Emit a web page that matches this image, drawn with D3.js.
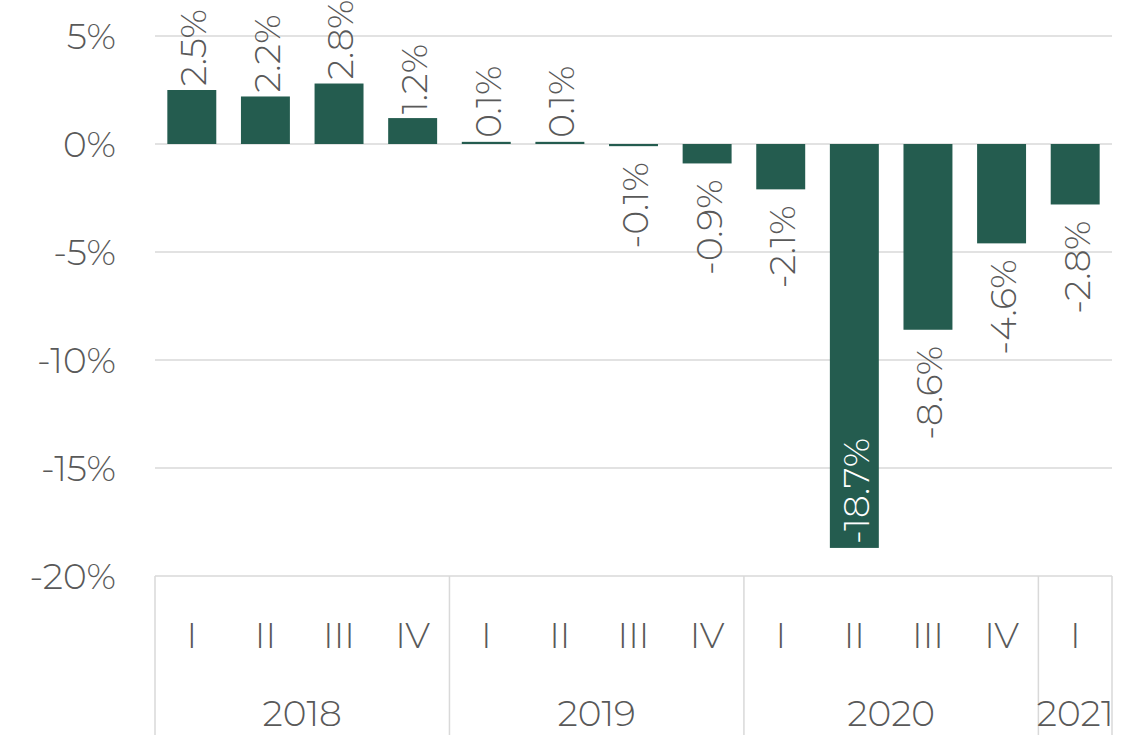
<!DOCTYPE html>
<html>
<head>
<meta charset="utf-8">
<script src="https://cdn.jsdelivr.net/npm/d3@7"></script>
<style>
    html, body { margin: 0; padding: 0; background: #fff; }
    svg text { font-family: Montserrat, "Open Sans", "Noto Sans", sans-serif; font-weight: 300; fill: #595959; }
</style>
</head>
<body>
<div id="chart"></div>
<script>
// datos del gráfico
var quarters = ["I", "II", "III", "IV", "I", "II", "III", "IV", "I", "II", "III", "IV", "I"];
var years = ["2018", "2019", "2020", "2021"];
var quartersPerYear = [4, 4, 4, 1];
var values = [2.5, 2.2, 2.8, 1.2, 0.1, 0.1, -0.1, -0.9, -2.1, -18.7, -8.6, -4.6, -2.8];
var yTicks = [5, 0, -5, -10, -15, -20];

var width = 1130, height = 735,
    margins = {top: 36, right: 18, bottom: 159, left: 155},
    innerW = width - margins.left - margins.right,
    innerH = height - margins.top - margins.bottom,
    barColor = "#245c4f",
    gridColor = "#d9d9d9",
    fontSize = 36,
    labelGap = 16;

var svg = d3.select("#chart").append("svg")
    .attr("width", width)
    .attr("height", height);

var g = svg.append("g")
    .attr("transform", `translate(${margins.left}, ${margins.top})`);

var x = d3.scaleBand()
    .domain(d3.range(values.length))
    .range([0, innerW])
    .paddingInner(0.335)
    .paddingOuter(0.1675);

var y = d3.scaleLinear()
    .domain([-20, 5])
    .range([innerH, 0]);

// lineas de la grilla
g.append("g")
    .selectAll("line")
    .data(yTicks)
    .enter().append("line")
        .attr("x1", 0)
        .attr("x2", innerW)
        .attr("y1", d => y(d))
        .attr("y2", d => y(d))
        .attr("stroke", gridColor)
        .attr("stroke-width", 1.5);

// eje y
var yAxis = d3.axisLeft(y)
    .tickValues(yTicks)
    .tickSize(0)
    .tickPadding(39)
    .tickFormat(d => d + "%");

g.append("g")
    .call(yAxis)
    .call(sel => sel.select(".domain").remove())
    .selectAll("text")
        .attr("font-size", fontSize)
        .attr("dy", "0.35em");

// barras
g.append("g")
    .selectAll("rect")
    .data(values)
    .enter().append("rect")
        .attr("x", (d, i) => x(i))
        .attr("y", d => y(Math.max(0, d)))
        .attr("width", x.bandwidth())
        .attr("height", d => Math.abs(y(d) - y(0)))
        .attr("fill", barColor);

// etiquetas de datos
var labelLen = 3.1 * fontSize;
var inside = d => d < 0 && y(d) + labelGap + labelLen > innerH;

g.append("g")
    .selectAll("text")
    .data(values)
    .enter().append("text")
        .attr("font-size", fontSize)
        .attr("dy", "0.4em")
        .attr("transform", (d, i) => {
            var cx = x(i) + x.bandwidth() / 2, ly;
            if (d >= 0) ly = y(d) - 4;
            else if (inside(d)) ly = y(d) - 4;
            else ly = y(d) + labelGap;
            return `translate(${cx}, ${ly}) rotate(-90)`;
        })
        .attr("text-anchor", d => (d >= 0 || inside(d)) ? "start" : "end")
        .style("fill", d => inside(d) ? "#ffffff" : null)
        .text(d => d.toFixed(1) + "%");

// eje x con dos niveles
var axisG = g.append("g")
    .attr("transform", `translate(0, ${innerH})`);

axisG.selectAll(".quarter")
    .data(quarters)
    .enter().append("text")
        .attr("class", "quarter")
        .attr("x", (d, i) => x(i) + x.bandwidth() / 2)
        .attr("y", 59)
        .attr("dy", "0.35em")
        .attr("text-anchor", "middle")
        .attr("font-size", fontSize)
        .text(d => d);

var step = x.step(), start = 0, groups = [];
years.forEach((yr, i) => {
    groups.push({year: yr, x0: start * step, x1: (start + quartersPerYear[i]) * step});
    start += quartersPerYear[i];
});

var bounds = [0].concat(groups.map(d => d.x1));
axisG.selectAll(".sep")
    .data(bounds)
    .enter().append("line")
        .attr("class", "sep")
        .attr("x1", d => d)
        .attr("x2", d => d)
        .attr("y1", 0)
        .attr("y2", margins.bottom)
        .attr("stroke", gridColor)
        .attr("stroke-width", 1.5);

axisG.selectAll(".year")
    .data(groups)
    .enter().append("text")
        .attr("class", "year")
        .attr("x", d => (d.x0 + d.x1) / 2)
        .attr("y", 137)
        .attr("dy", "0.35em")
        .attr("text-anchor", "middle")
        .attr("font-size", fontSize)
        .text(d => d.year);
</script>
</body>
</html>
